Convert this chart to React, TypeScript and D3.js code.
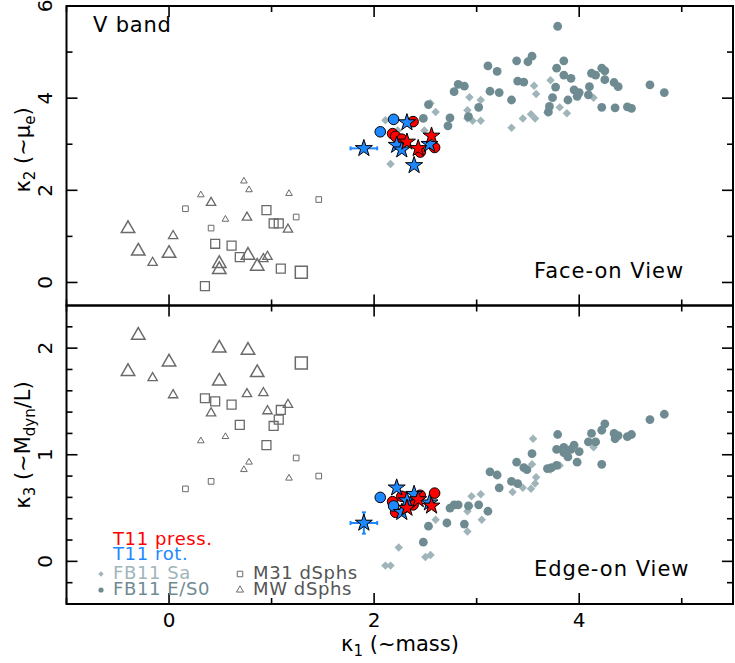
import React from 'react';
import * as d3 from 'd3';

// kappa-space, V band.  k1 ~ mass, k2 ~ mu_e, k3 ~ Mdyn/L

// T11 (pressure supported) : [k1, k2, k3]
const t11PressCircles = [
  [2.38, 3.49, 0.53], [2.18, 3.23, 0.56], [2.21, 3.17, 0.46],
  [2.27, 3.11, 0.61], [2.45, 2.83, 0.62], [2.59, 2.93, 0.64],
];
const t11PressStars = [
  [2.32, 3.05, 0.50], [2.56, 3.18, 0.52], [2.43, 2.91, 0.58],
];
// T11 (rotation supported)
const t11RotCircles = [
  [2.19, 3.54, 0.52], [2.06, 3.27, 0.60],
];
const t11RotStars = [
  [1.90, 2.91, 0.36], [2.32, 3.47, 0.57], [2.22, 2.98, 0.69],
  [2.27, 2.88, 0.46], [2.39, 2.54, 0.63], [2.54, 3.00, 0.55],
];
// error bars of the offset rotator: [k1, k2, k3, err k1, err k3]
const t11RotErr = [[1.90, 2.91, 0.36, 0.13, 0.10]];

// MW dSphs : [k1, k2, k3, luminosity class]
const mwDsphs = [
  [-0.40, 1.17, 1.78, 3], [-0.30, 0.68, 2.12, 3], [0.00, 0.63, 1.87, 3],
  [0.49, 0.41, 2.00, 3], [0.49, 0.28, 1.69, 3], [0.77, 0.59, 1.98, 3],
  [0.86, 0.35, 1.77, 3], [-0.16, 0.43, 1.72, 2], [0.04, 1.01, 1.56, 2],
  [0.41, 1.73, 1.39, 2], [0.76, 1.41, 1.57, 2], [0.92, 0.51, 1.58, 2],
  [0.96, 0.56, 1.41, 2], [1.16, 1.15, 1.47, 2], [0.31, 1.90, 1.13, 1],
  [0.55, 1.37, 1.17, 1], [0.73, 2.20, 0.86, 1], [0.78, 2.01, 0.93, 1],
  [1.17, 1.93, 0.78, 1],
];
// M31 dSphs : [k1, k2, k3, luminosity class]
const m31Dsphs = [
  [1.29, 0.22, 1.86, 3], [0.95, 1.57, 1.09, 2], [0.45, 0.84, 1.50, 2],
  [0.61, 0.80, 1.47, 2], [0.69, 0.55, 1.28, 2], [1.09, 0.30, 1.42, 2],
  [1.02, 1.28, 1.27, 2], [1.07, 1.28, 1.33, 2], [0.35, -0.08, 1.53, 2],
  [0.16, 1.60, 0.68, 1], [0.41, 1.18, 0.75, 1], [1.24, 1.42, 0.97, 1],
  [1.46, 1.80, 0.80, 1],
];

// FB11 E/S0, face-on : [k1, k2]
const fbEsFace = [
  [3.79, 5.56], [3.11, 4.70], [3.20, 4.58], [3.39, 4.81], [3.50, 4.79],
  [3.54, 4.91], [3.85, 4.81], [3.78, 4.65], [3.85, 4.50], [3.92, 4.43],
  [2.82, 4.30], [2.88, 4.26], [2.78, 4.14], [3.13, 4.15], [3.22, 4.12],
  [3.40, 4.37], [3.46, 4.35], [3.77, 4.24], [3.34, 3.96], [3.02, 3.80],
  [3.74, 4.01], [3.89, 3.96], [3.95, 4.18], [4.00, 4.12], [3.98, 4.04],
  [4.10, 4.25], [4.09, 4.07], [4.12, 4.54], [4.16, 4.50], [4.22, 4.65],
  [4.25, 4.59], [4.25, 4.40], [4.34, 4.34], [4.38, 4.25], [4.69, 4.29],
  [4.83, 4.12], [4.22, 3.80], [4.35, 3.79], [4.47, 3.81], [4.51, 3.78],
  [3.71, 3.82], [3.70, 3.70], [2.92, 3.60], [2.74, 3.57], [2.72, 3.40],
  [2.48, 3.56], [2.53, 3.86],
];
// FB11 Sa, face-on : [k1, k2]
const fbSaFace = [
  [2.11, 3.52], [2.16, 2.57], [2.23, 3.30], [2.49, 3.30], [2.55, 3.89],
  [2.60, 3.70], [2.93, 4.02], [3.04, 3.96], [2.91, 3.74], [2.91, 3.56],
  [2.96, 3.51], [3.04, 3.51], [3.34, 3.36], [3.45, 3.56], [3.53, 3.65],
  [3.57, 3.56], [3.56, 4.27], [3.58, 4.09], [3.72, 4.39], [3.69, 3.69],
  [3.81, 3.80], [3.88, 3.67], [4.14, 4.01],
];
// FB11 E/S0, edge-on : [k1, k3]
const fbEsEdge = [
  [4.83, 1.38], [4.69, 1.33], [4.25, 1.29], [4.22, 1.23], [4.12, 1.20],
  [4.34, 1.20], [4.38, 1.18], [4.35, 1.15], [4.51, 1.19], [4.47, 1.17],
  [4.09, 1.12], [4.16, 1.12], [3.79, 1.19], [3.95, 1.09], [3.92, 1.05],
  [4.00, 1.03], [3.78, 1.05], [3.85, 1.07], [3.85, 1.02], [3.89, 0.98],
  [3.98, 0.93], [4.22, 0.91], [3.54, 1.01], [3.39, 0.93], [3.46, 0.88],
  [3.49, 0.86], [3.69, 0.87], [3.73, 0.88], [3.78, 0.90], [3.13, 0.84],
  [3.20, 0.81], [3.34, 0.75], [3.40, 0.73], [3.22, 0.69], [3.02, 0.53],
  [3.11, 0.47], [2.92, 0.52], [2.74, 0.50], [2.78, 0.53], [2.82, 0.53],
  [2.53, 0.33], [2.71, 0.36], [2.88, 0.35], [2.48, 0.18],
];
// FB11 Sa, edge-on : [k1, k3]
const fbSaEdge = [
  [3.55, 1.15], [3.54, 0.91], [3.81, 0.90], [3.72, 0.86], [4.14, 1.07],
  [3.58, 0.79], [3.57, 0.73], [3.45, 0.69], [3.53, 0.68], [3.35, 0.65],
  [2.95, 0.61], [3.04, 0.63], [2.93, 0.52], [2.91, 0.47], [3.05, 0.39],
  [2.60, 0.39], [2.91, 0.28], [2.24, 0.13], [2.50, 0.04], [2.55, 0.06],
  [2.11, -0.04], [2.16, -0.04],
];

const k1Major = [0, 2, 4];
const k1Minor = [-1, 1, 3, 5];
const k2Major = [0, 2, 4, 6];
const k2Minor = [1, 3, 5];
const k3Major = [0, 1, 2];
const k3Minor = [-0.2, 0.2, 0.4, 0.6, 0.8, 1.2, 1.4, 1.6, 1.8, 2.2];

const RED = '#ff0000';
const BLUE = '#1e88ff';
const SA = '#9fb5ba';
const ES = '#6f8b92';
const DSPH = '#6a6a6a';
const FONT = 'DejaVu Sans, sans-serif';

const left = 66.5, right = 733, top = 6, mid = 305.5, bottom = 604;

const x = d3.scaleLinear().domain([-1, 5.5]).range([left, right]);
const y2 = d3.scaleLinear().domain([-0.5, 6]).range([mid, top]);
const y3 = d3.scaleLinear().domain([-0.4, 2.4]).range([bottom, mid]);

const triSize = d3.scaleOrdinal<number, number>().domain([1, 2, 3]).range([19, 38, 78]);
const sqSize = d3.scaleOrdinal<number, number>().domain([1, 2, 3]).range([32, 80, 144]);
const lineW = d3.scaleOrdinal<number, number>().domain([1, 2, 3]).range([1, 1.3, 1.5]);

const tri = (s: number) => d3.symbol().type(d3.symbolTriangle).size(s)() as string;
const sq = (s: number) => d3.symbol().type(d3.symbolSquare).size(s)() as string;
const star = d3.symbol().type(d3.symbolStar).size(90)() as string;
const diamond = d3.symbol().type(d3.symbolSquare).size(36)() as string;

function Frame({ y, y0, y1, major, minor }: any) {
  const ticks: any[] = [];
  const mk = (v: number, len: number, key: string) => {
    const px = x(v);
    ticks.push(<line key={key + 'b'} x1={px} x2={px} y1={y0} y2={y0 - len} />);
    ticks.push(<line key={key + 't'} x1={px} x2={px} y1={y1} y2={y1 + len} />);
  };
  k1Major.forEach(v => mk(v, 11, 'xM' + v));
  k1Minor.forEach(v => mk(v, 6, 'xm' + v));
  const mky = (v: number, len: number, key: string) => {
    const py = y(v);
    ticks.push(<line key={key + 'l'} x1={left} x2={left + len} y1={py} y2={py} />);
    ticks.push(<line key={key + 'r'} x1={right} x2={right - len} y1={py} y2={py} />);
  };
  major.forEach((v: number) => mky(v, 11, 'yM' + v));
  minor.forEach((v: number) => mky(v, 6, 'ym' + v));
  return (
    <g stroke="#000" strokeWidth={1.6} fill="none">
      {ticks}
      <rect x={left} y={y1} width={right - left} height={y0 - y1} strokeWidth={2} />
    </g>
  );
}

function Panel({ y, k, fbEs, fbSa }: any) {
  return (
    <g>
      {fbSa.map((d: number[], i: number) => (
        <path key={'sa' + i} d={diamond} fill={SA}
          transform={`translate(${x(d[0])},${y(d[1])}) rotate(45)`} />
      ))}
      {fbEs.map((d: number[], i: number) => (
        <circle key={'es' + i} cx={x(d[0])} cy={y(d[1])} r={4.4} fill={ES} />
      ))}
      {m31Dsphs.map((d, i) => (
        <path key={'m31' + i} d={sq(sqSize(d[3]))} fill="none" stroke={DSPH}
          strokeWidth={lineW(d[3])} transform={`translate(${x(d[0])},${y(d[k])})`} />
      ))}
      {mwDsphs.map((d, i) => (
        <path key={'mw' + i} d={tri(triSize(d[3]))} fill="none" stroke={DSPH}
          strokeWidth={lineW(d[3])} transform={`translate(${x(d[0])},${y(d[k])})`} />
      ))}
      {t11RotErr.map((d, i) => (
        <g key={'err' + i} stroke={BLUE} strokeWidth={2}>
          <line x1={x(d[0] - d[3])} x2={x(d[0] + d[3])} y1={y(d[k])} y2={y(d[k])} />
          <line x1={x(d[0] - d[3])} x2={x(d[0] - d[3])} y1={y(d[k]) - 2} y2={y(d[k]) + 2} />
          <line x1={x(d[0] + d[3])} x2={x(d[0] + d[3])} y1={y(d[k]) - 2} y2={y(d[k]) + 2} />
          {k === 2 && (
            <g>
              <line x1={x(d[0])} x2={x(d[0])} y1={y(d[2] - d[4])} y2={y(d[2] + d[4])} />
              <line x1={x(d[0]) - 2} x2={x(d[0]) + 2} y1={y(d[2] - d[4])} y2={y(d[2] - d[4])} />
              <line x1={x(d[0]) - 2} x2={x(d[0]) + 2} y1={y(d[2] + d[4])} y2={y(d[2] + d[4])} />
            </g>
          )}
        </g>
      ))}
      {t11PressCircles.map((d, i) => (
        <circle key={'pc' + i} cx={x(d[0])} cy={y(d[k])} r={5.3} fill={RED} stroke="#000" strokeWidth={1} />
      ))}
      {t11RotCircles.map((d, i) => (
        <circle key={'rc' + i} cx={x(d[0])} cy={y(d[k])} r={5.3} fill={BLUE} stroke="#000" strokeWidth={1} />
      ))}
      {t11RotStars.map((d, i) => (
        <path key={'rs' + i} d={star} fill={BLUE} stroke="#000" strokeWidth={1}
          transform={`translate(${x(d[0])},${y(d[k])})`} />
      ))}
      {t11PressStars.map((d, i) => (
        <path key={'ps' + i} d={star} fill={RED} stroke="#000" strokeWidth={1}
          transform={`translate(${x(d[0])},${y(d[k])})`} />
      ))}
    </g>
  );
}

export default function App() {
  const fs = 20;
  return (
    <svg width={735} height={663} style={{ position: 'absolute', left: 0, top: 0, background: '#fff' }}
      fontFamily={FONT}>
      <Panel y={y2} k={1} fbEs={fbEsFace} fbSa={fbSaFace} />
      <Panel y={y3} k={2} fbEs={fbEsEdge} fbSa={fbSaEdge} />
      <Frame y={y2} y0={mid} y1={top} major={k2Major} minor={k2Minor} />
      <Frame y={y3} y0={bottom} y1={mid} major={k3Major} minor={k3Minor} />

      {/* tick labels */}
      {k1Major.map(v => (
        <text key={'xl' + v} x={x(v)} y={627} fontSize={fs} textAnchor="middle">{v}</text>
      ))}
      {k2Major.map(v => (
        <text key={'y2l' + v} transform={`translate(52,${y2(v)}) rotate(-90)`} fontSize={fs} textAnchor="middle">{v}</text>
      ))}
      {k3Major.map(v => (
        <text key={'y3l' + v} transform={`translate(52,${y3(v)}) rotate(-90)`} fontSize={fs} textAnchor="middle">{v}</text>
      ))}

      {/* axis titles */}
      <text x={400} y={651} fontSize={21} textAnchor="middle">
        κ<tspan fontSize={15} dy={5}>1</tspan><tspan dy={-5}> (~mass)</tspan>
      </text>
      <text transform="translate(30,150) rotate(-90)" fontSize={21} textAnchor="middle">
        κ<tspan fontSize={15} dy={5}>2</tspan><tspan dy={-5}> (~μ</tspan><tspan fontSize={15} dy={5}>e</tspan><tspan dy={-5}>)</tspan>
      </text>
      <text transform="translate(30,445) rotate(-90)" fontSize={21} textAnchor="middle">
        κ<tspan fontSize={15} dy={5}>3</tspan><tspan dy={-5}> (~M</tspan><tspan fontSize={15} dy={5}>dyn</tspan><tspan dy={-5}>/L)</tspan>
      </text>

      {/* panel labels */}
      <text x={93} y={32} fontSize={21} letterSpacing={0.8}>V band</text>
      <text x={534} y={278} fontSize={21} letterSpacing={1}>Face-on View</text>
      <text x={534} y={576} fontSize={21} letterSpacing={1}>Edge-on View</text>

      {/* legend */}
      <g fontSize={18} letterSpacing={0.6}>
        <text x={113} y={545} fill={RED}>T11 press.</text>
        <text x={113} y={560} fill={BLUE}>T11 rot.</text>
        <path d={d3.symbol().type(d3.symbolSquare).size(14)() as string} fill={SA}
          transform="translate(101,574) rotate(45)" />
        <text x={113} y={579} fill={SA}>FB11 Sa</text>
        <circle cx={101} cy={590} r={2.6} fill={ES} />
        <text x={113} y={595} fill={ES}>FB11 E/S0</text>
        <path d={sq(30)} fill="none" stroke={DSPH} transform="translate(240,574)" />
        <text x={253} y={579} fill="#555">M31 dSphs</text>
        <path d={tri(22)} fill="none" stroke={DSPH} transform="translate(240,590)" />
        <text x={253} y={595} fill="#555">MW dSphs</text>
      </g>
    </svg>
  );
}
